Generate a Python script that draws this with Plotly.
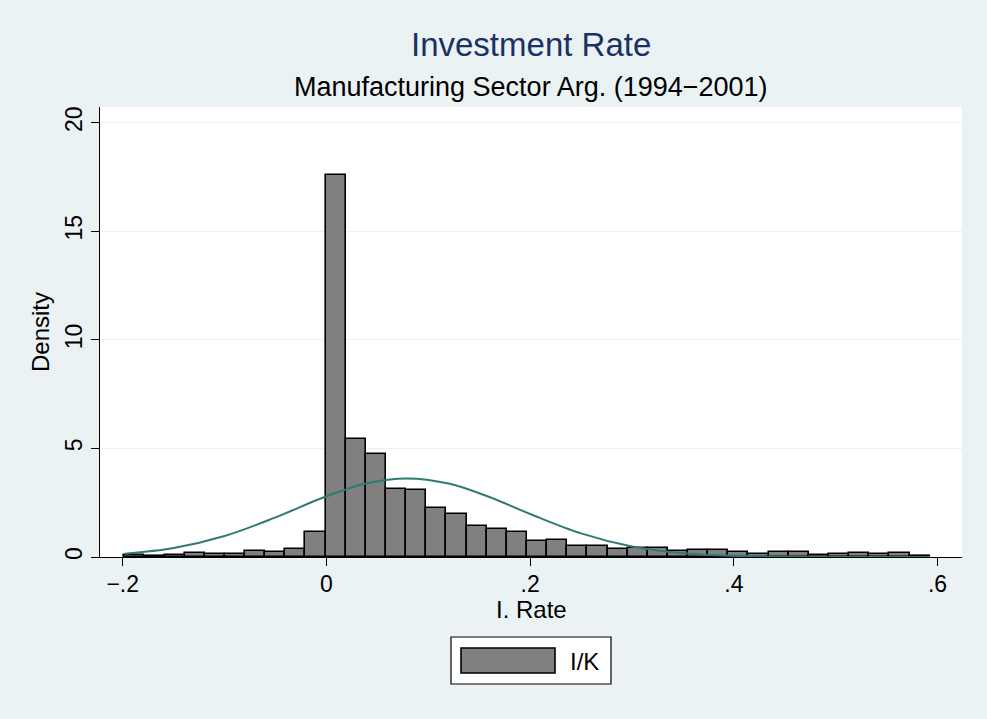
import plotly.graph_objects as go

# ---- data ----
bin_start = -0.1985
bin_width = 0.01977
density = [0.08, 0.06, 0.08, 0.20, 0.15, 0.13, 0.29, 0.23, 0.38, 1.15,
           17.58, 5.43, 4.76, 3.13, 3.08, 2.24, 1.97, 1.41, 1.28, 1.14,
           0.73, 0.79, 0.50, 0.52, 0.38, 0.43, 0.41, 0.29, 0.32, 0.32,
           0.21, 0.15, 0.21, 0.21, 0.11, 0.12, 0.17, 0.13, 0.18, 0.05]

curve_x = [-0.198, -0.15, -0.1, -0.05, 0.0, 0.04, 0.079, 0.12, 0.16, 0.2,
           0.25, 0.3, 0.35, 0.4, 0.45, 0.5, 0.55, 0.593]
curve_y = [0.154, 0.418, 0.968, 1.824, 2.80, 3.40, 3.62, 3.38, 2.76, 1.98,
           1.086, 0.485, 0.176, 0.052, 0.0125, 0.0024, 0.0003, 0.0]

x_tickvals = [-0.2, 0.0, 0.2, 0.4, 0.6]
x_ticktext = ["\u2212.2", "0", ".2", ".4", ".6"]
y_tickvals = [0, 5, 10, 15, 20]
y_ticktext = ["0", "5", "10", "15", "20"]

title_text = "Investment Rate"
subtitle_text = "Manufacturing Sector Arg. (1994\u22122001)"
x_title = "I. Rate"
y_title = "Density"
legend_label = "I/K"

centers = [bin_start + bin_width * (i + 0.5) for i in range(len(density))]

FONT = "Liberation Sans, Arial, Helvetica, sans-serif"
BG = "#EAF2F3"

fig = go.Figure()
fig.add_trace(go.Bar(
    x=centers, y=density, width=bin_width,
    marker=dict(color="#808080", line=dict(color="black", width=1.6)),
    showlegend=False, hoverinfo="skip"))
fig.add_trace(go.Scatter(
    x=curve_x, y=curve_y, mode="lines",
    line=dict(color="#2E7B73", width=2, shape="spline", smoothing=1.0),
    showlegend=False, hoverinfo="skip"))

fig.update_layout(
    width=987, height=719,
    margin=dict(l=100, r=25, t=107, b=162),
    paper_bgcolor=BG, plot_bgcolor="white",
    bargap=0,
    font=dict(family=FONT, color="black", size=23),
    showlegend=False,
    xaxis=dict(range=[-0.2223, 0.624], tickvals=x_tickvals, ticktext=x_ticktext,
               showgrid=False, zeroline=False, showline=True, linecolor="black",
               linewidth=1.2, ticks="outside", ticklen=8, tickcolor="black",
               tickfont=dict(size=23), ticklabelstandoff=-2),
    yaxis=dict(range=[0, 20.72], tickvals=y_tickvals, ticktext=y_ticktext,
               showgrid=True, gridcolor=BG, gridwidth=1.2, zeroline=False,
               showline=True, linecolor="black", linewidth=1.2,
               ticks="outside", ticklen=8, tickcolor="black", tickangle=-90,
               tickfont=dict(size=23)),
)

def px_x(p):
    return (p - 100) / 862.0

def px_y(p):
    return (557 - p) / 450.0

# titles
fig.add_annotation(text=title_text, xref="paper", yref="paper", x=0.5,
                   y=px_y(44), xanchor="center", yanchor="middle",
                   showarrow=False, font=dict(size=33, color="#1C3163", family=FONT))
fig.add_annotation(text=subtitle_text, xref="paper", yref="paper", x=0.5,
                   y=px_y(87), xanchor="center", yanchor="middle",
                   showarrow=False, font=dict(size=27, color="black", family=FONT))
# axis titles
fig.add_annotation(text=x_title, xref="paper", yref="paper", x=0.5,
                   y=px_y(609), xanchor="center", yanchor="middle",
                   showarrow=False, font=dict(size=24, color="black", family=FONT))
fig.add_annotation(text=y_title, xref="paper", yref="paper", x=px_x(40),
                   y=0.5, xanchor="center", yanchor="middle", textangle=-90,
                   showarrow=False, font=dict(size=24, color="black", family=FONT))

# legend box drawn manually (Stata-style wide key)
fig.add_shape(type="rect", xref="paper", yref="paper",
              x0=px_x(451), x1=px_x(611), y0=px_y(637), y1=px_y(684),
              fillcolor="white", line=dict(color="black", width=1.2))
fig.add_shape(type="rect", xref="paper", yref="paper",
              x0=px_x(461), x1=px_x(555), y0=px_y(648), y1=px_y(673),
              fillcolor="#808080", line=dict(color="black", width=1.6))
fig.add_annotation(text=legend_label, xref="paper", yref="paper",
                   x=px_x(568), y=px_y(661), xanchor="left", yanchor="middle",
                   showarrow=False, font=dict(size=24, color="black", family=FONT))

fig.write_html("out.html")
